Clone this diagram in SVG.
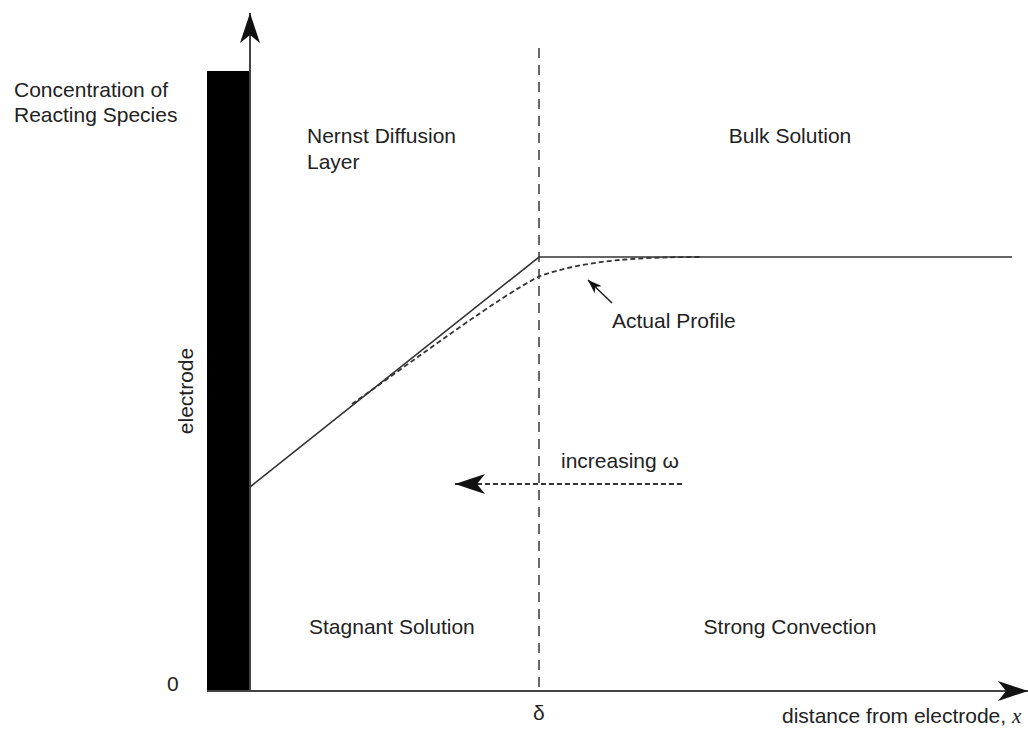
<svg xmlns="http://www.w3.org/2000/svg" width="1028" height="729" viewBox="0 0 1028 729">
<style>
text{font-family:"Liberation Sans",Arial,sans-serif;font-size:21px;fill:#222}
.ax{stroke:#444;stroke-width:2;fill:none}
.sol{stroke:#333;stroke-width:1.6;fill:none}
.dsh{stroke:#333;stroke-width:1.8;fill:none;stroke-dasharray:5 3}
.vd{stroke:#444;stroke-width:1.6;fill:none;stroke-dasharray:10 7}
</style>
<defs>
<marker id="ah" viewBox="0 0 30 20" refX="30" refY="10" markerWidth="30" markerHeight="20" markerUnits="userSpaceOnUse" orient="auto">
<path d="M0,0 L30,10 L0,20 L8,10 Z" fill="#111"/>
</marker>
<marker id="ahs" viewBox="0 0 14 10" refX="14" refY="5" markerWidth="14" markerHeight="10" markerUnits="userSpaceOnUse" orient="auto">
<path d="M0,0 L14,5 L0,10 L4,5 Z" fill="#111"/>
</marker>
</defs>
<rect width="1028" height="729" fill="#fff"/>
<g id="electrode">
<rect x="207" y="71" width="43" height="621" fill="#000"/>
<text transform="translate(193,391) rotate(-90)" text-anchor="middle">electrode</text>
</g>
<g id="connectors">
<line class="ax" x1="250" y1="692" x2="250" y2="13" marker-end="url(#ah)"/>
<line class="ax" x1="207" y1="691" x2="1028" y2="691" marker-end="url(#ah)"/>
<line class="vd" x1="539" y1="48" x2="539" y2="691"/>
<polyline class="sol" points="250,487 539,257 1012,257"/>
<path class="dsh" d="M352,404 C420,356 500,296 540,276 C585,260 640,257 700,257"/>
<line x1="612" y1="303" x2="588" y2="280" stroke="#222" stroke-width="1.6" marker-end="url(#ahs)"/>
<line class="dsh" x1="682" y1="484" x2="455" y2="484" marker-end="url(#ah)"/>
</g>
<g id="labels">
<text x="14" y="97">Concentration of</text>
<text x="14" y="122">Reacting Species</text>
<text x="307" y="143">Nernst Diffusion</text>
<text x="307" y="169">Layer</text>
<text x="790" y="143" text-anchor="middle">Bulk Solution</text>
<text x="612" y="328">Actual Profile</text>
<text x="561" y="468">increasing ω</text>
<text x="309" y="634">Stagnant Solution</text>
<text x="790" y="634" text-anchor="middle">Strong Convection</text>
<text x="167" y="691">0</text>
<text x="533" y="720">δ</text>
<text x="782" y="723">distance from electrode, <tspan font-family="'Liberation Serif',serif" font-style="italic">x</tspan></text>
</g>
</svg>
